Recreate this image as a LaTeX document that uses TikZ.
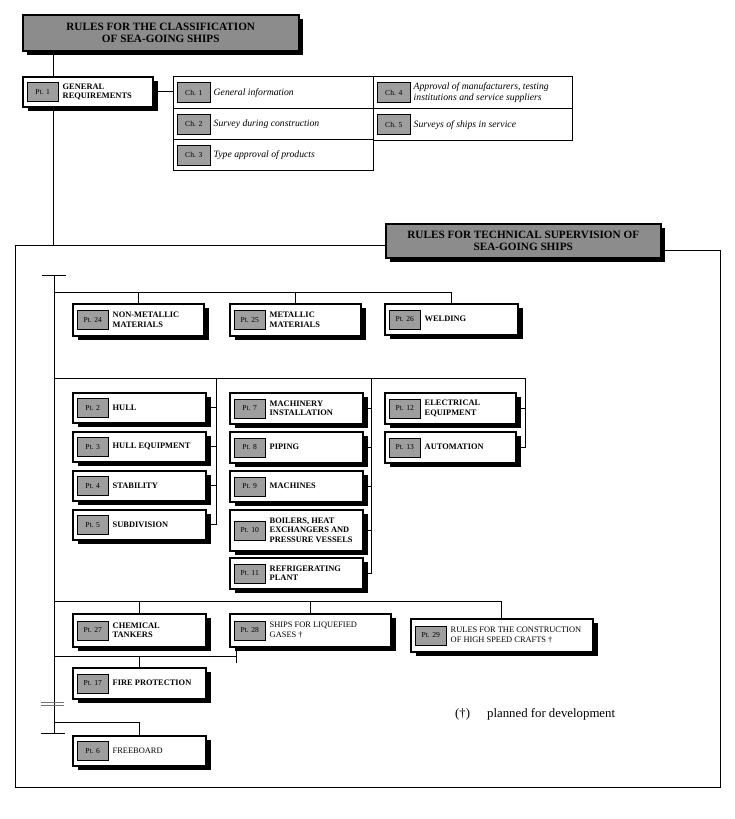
\documentclass[tikz,border=0pt]{standalone}
\usepackage{fontspec}
\setmainfont{Liberation Serif}
\usetikzlibrary{shadows}
\newcommand\mkbox[8]{%
  \node[pbox, minimum width=#4, minimum height=#5] (#1) at (#2,#3) {};
  \node[plbl, anchor=west] (#1l) at ([xshift=5pt]#1.west) {#6};
  \node[ptxt, font=\fontsize{8.4}{9.6}\selectfont#8, anchor=west] (#1t) at ([xshift=4pt]#1l.east) {#7};}
\newcommand\mkcell[7]{%
  \node[cell, minimum width=#4, minimum height=#5] (#1) at (#2,#3) {};
  \node[chl, anchor=west] (#1l) at ([xshift=4pt]#1.west) {#6};
  \node[chtxt, anchor=west] (#1t) at ([xshift=3pt]#1l.east) {#7};}
\begin{document}
\begin{tikzpicture}[x=1pt,y=-1pt,
  pbox/.style={draw, line width=1.5pt, fill=white, inner sep=0, anchor=north west,
    drop shadow={shadow xshift=5pt, shadow yshift=-4pt, opacity=1, fill=black}},
  plbl/.style={draw, line width=0.5pt, fill=black!38, minimum width=31pt, minimum height=19pt,
    inner sep=0, font=\fontsize{7.6}{8}\selectfont},
  ptxt/.style={inner sep=0, align=left},
  cell/.style={draw, line width=1.4pt, inner sep=0, anchor=north west},
  chl/.style={draw, line width=0.5pt, fill=black!38, minimum width=33pt, minimum height=20pt,
    inner sep=0, font=\fontsize{7.6}{8}\selectfont},
  chtxt/.style={inner sep=0, align=left, font=\fontsize{9.7}{10.8}\selectfont\itshape},
  title/.style={draw, line width=1.5pt, fill=black!45, inner sep=0, anchor=north west, align=center,
    font=\fontsize{11.2}{12.2}\selectfont\bfseries,
    drop shadow={shadow xshift=4pt, shadow yshift=-4pt, opacity=1, fill=black}},
  conn/.style={line width=1pt},
  frame/.style={line width=0.9pt}]
\useasboundingbox (0,0) rectangle (735,819);

% ---- top part
\node[title, minimum width=276, minimum height=36] (t1) at (22,14) {RULES FOR THE CLASSIFICATION\\OF SEA-GOING SHIPS};
\mkbox{p1}{22}{76}{130}{30}{Pt. 1}{GENERAL\\REQUIREMENTS}{\bfseries}
\mkcell{c1}{173}{76}{200}{32}{Ch. 1}{General information}
\mkcell{c2}{173}{108}{200}{31}{Ch. 2}{Survey during construction}
\mkcell{c3}{173}{139}{200}{31}{Ch. 3}{Type approval of products}
\mkcell{c4}{373}{76}{199}{32}{Ch. 4}{Approval of manufacturers, testing\\institutions and service suppliers}
\mkcell{c5}{373}{108}{199}{32}{Ch. 5}{Surveys of ships in service}
\draw[conn] (p1.east) -- (c1.west |- p1.east);
\draw[conn] ([xshift=31pt]t1.south west) -- ([xshift=31pt]p1.north west);

% ---- frame
\coordinate (fL) at (15,245);
\coordinate (fJ) at (53,245);
\coordinate (fBL) at (15,787);
\coordinate (fBR) at (720,787);
\coordinate (fTR) at (720,250);
\draw[conn] ([xshift=31pt]p1.south west) -- (fJ);
\draw[frame] (400,245) -- (fL) -- (fBL) -- (fBR) -- (fTR) -- (650,250);
\node[title, minimum width=275, minimum height=34] (t2) at (385,223) {RULES FOR TECHNICAL SUPERVISION OF\\SEA-GOING SHIPS};

% ---- spine
\coordinate (sTop) at (54,275);
\coordinate (sBot) at (54,733);
\draw[conn] (sTop) -- (sBot);
\draw[conn] (42,275) -- (66,275);
\draw[conn] (41,733) -- (65,733);
\draw[line width=0.8pt, black!55] (41,702) -- (64,702) (41,705.5) -- (64,705.5);

% ---- branch 1
\coordinate (b1) at (54,292);
\mkbox{p24}{72}{303}{131}{32}{Pt. 24}{NON-METALLIC\\MATERIALS}{\bfseries}
\mkbox{p25}{229}{303}{131}{32}{Pt. 25}{METALLIC\\MATERIALS}{\bfseries}
\mkbox{p26}{384}{303}{133}{31}{Pt. 26}{WELDING}{\bfseries}
\draw[conn] (b1) -| (p26.north);
\draw[conn] (p24.north) -- (p24.north |- b1);
\draw[conn] (p25.north) -- (p25.north |- b1);

% ---- branch 2
\coordinate (b2) at (54,378);
\coordinate (br1) at (216,378);
\coordinate (br2) at (371,378);
\coordinate (br3) at (525,378);
\mkbox{p2}{72}{392}{133}{30}{Pt. 2}{HULL}{\bfseries}
\mkbox{p3}{72}{431}{133}{30}{Pt. 3}{HULL EQUIPMENT}{\bfseries}
\mkbox{p4}{72}{470}{133}{30}{Pt. 4}{STABILITY}{\bfseries}
\mkbox{p5}{72}{509}{133}{30}{Pt. 5}{SUBDIVISION}{\bfseries}
\mkbox{p7}{229}{392}{133}{31}{Pt. 7}{MACHINERY\\INSTALLATION}{\bfseries}
\mkbox{p8}{229}{431}{133}{31}{Pt. 8}{PIPING}{\bfseries}
\mkbox{p9}{229}{470}{133}{31}{Pt. 9}{MACHINES}{\bfseries}
\mkbox{p10}{229}{509}{133}{41}{Pt. 10}{BOILERS, HEAT\\EXCHANGERS AND\\PRESSURE VESSELS}{\bfseries}
\mkbox{p11}{229}{557}{133}{31}{Pt. 11}{REFRIGERATING\\PLANT}{\bfseries}
\mkbox{p12}{384}{392}{131}{31}{Pt. 12}{ELECTRICAL\\EQUIPMENT}{\bfseries}
\mkbox{p13}{384}{431}{131}{31}{Pt. 13}{AUTOMATION}{\bfseries}
\draw[conn] (b2) -- (br3);
\draw[conn] (br1) |- (p5.east);
\draw[conn] (br2) |- (p11.east);
\draw[conn] (br3) |- (p13.east);
\foreach \n in {p2,p3,p4} \draw[conn] (\n.east) -- (\n.east -| br1);
\foreach \n in {p7,p8,p9,p10} \draw[conn] (\n.east) -- (\n.east -| br2);
\draw[conn] (p12.east) -- (p12.east -| br3);

% ---- branch 3
\coordinate (b3) at (54,601);
\mkbox{p27}{72}{613}{133}{33}{Pt. 27}{CHEMICAL\\TANKERS}{\bfseries}
\mkbox{p28}{229}{613}{161}{33}{Pt. 28}{SHIPS FOR LIQUEFIED\\GASES \dag}{}
\mkbox{p29}{410}{618}{182}{33}{Pt. 29}{RULES FOR THE CONSTRUCTION\\OF HIGH SPEED CRAFTS \dag}{}
\draw[conn] (b3) -| (p29.north);
\draw[conn] (p27.north) -- (p27.north |- b3);
\draw[conn] (p28.north) -- (p28.north |- b3);

% ---- fire protection
\coordinate (b4) at (54,656);
\coordinate (b4e) at (236,656);
\mkbox{p17}{72}{667}{133}{31}{Pt. 17}{FIRE PROTECTION}{\bfseries}
\draw[conn] (b4) -- (b4e);
\draw[conn] ([yshift=-7pt]b4e) -- ([yshift=7pt]b4e);
\draw[conn] (p17.north) -- (p17.north |- b4);

% ---- freeboard
\coordinate (b5) at (54,722);
\mkbox{p6}{72}{735}{133}{30}{Pt. 6}{FREEBOARD}{}
\draw[conn] (b5) -| (p6.north);

% ---- footnote
\node[anchor=west, inner sep=0, font=\fontsize{12.8}{14}\selectfont] (fn) at (455,714) {(\dag)\hspace{17pt}planned for development};
\end{tikzpicture}
\end{document}
